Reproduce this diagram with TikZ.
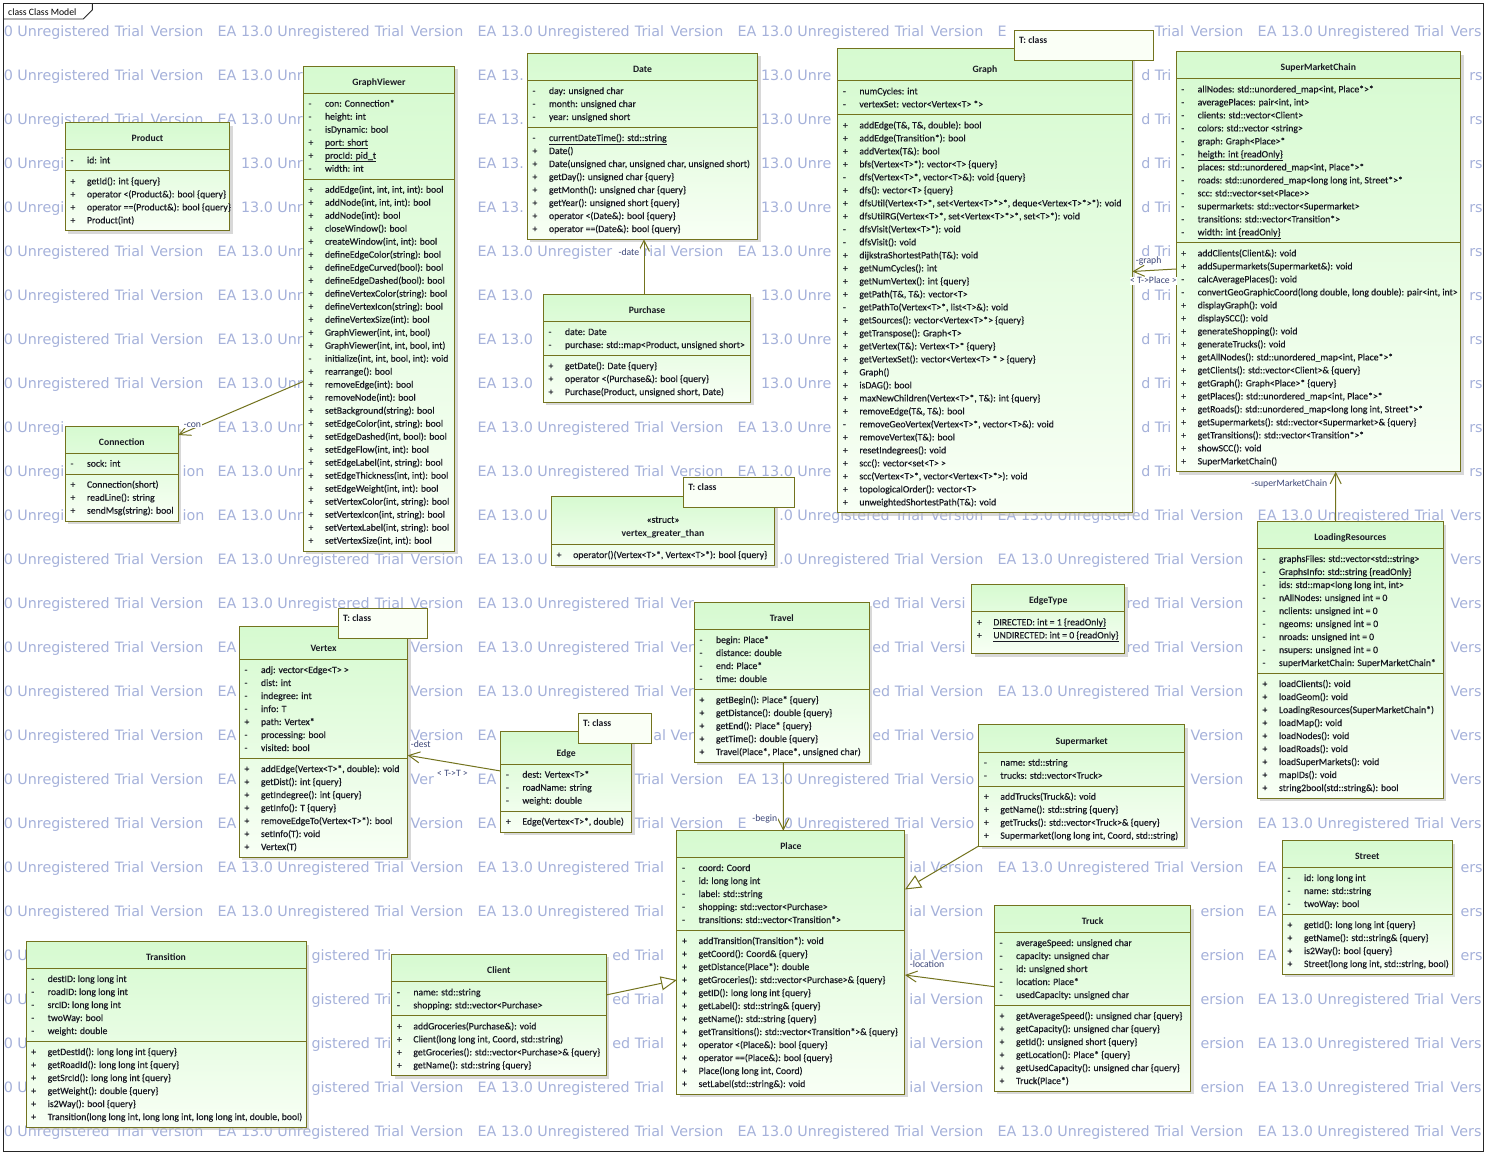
\documentclass[tikz,border=0pt]{standalone}
\usepackage{fontspec}
\setmainfont{Carlito}
\newfontfamily\memberfamily{Carlito}[FakeBold=0.45]
\newfontfamily\wmfont{DejaVu Sans}
\usetikzlibrary{arrows.meta,shadows}

\definecolor{umlborder}{RGB}{115,115,30}
\definecolor{umltop}{RGB}{214,250,208}
\definecolor{umlbot}{RGB}{248,255,245}
\definecolor{umltext}{RGB}{25,25,35}
\definecolor{linktext}{RGB}{60,70,120}
\definecolor{wmcolor}{RGB}{165,177,218}
\definecolor{tmplfill}{RGB}{250,255,246}

\newcommand\umlfont{\memberfamily\fontsize{9.7}{11}\selectfont}
\newcommand\umlboldfont{\fontsize{9.7}{11}\selectfont\bfseries}
\newcommand\wmfontsel{\wmfont\fontsize{14.3}{16}\selectfont}

\tikzset{
  classbox/.style={rectangle, draw=umlborder, line width=1pt, top color=umltop, bottom color=umlbot,
    inner sep=0pt, outer sep=0pt, anchor=north west,
    drop shadow={shadow xshift=3pt, shadow yshift=-3pt, fill=black!25, opacity=0.6}},
  tmplbox/.style={rectangle, draw=umlborder, line width=1pt, fill=tmplfill, inner sep=0pt, outer sep=0pt, anchor=north west},
  sepline/.style={draw=umlborder, line width=1pt},
  member/.style={anchor=base west, inner sep=0pt, font=\umlfont, text=umltext},
  ctitle/.style={anchor=base, inner sep=0pt, font=\umlboldfont, text=umltext},
  cstereo/.style={anchor=base, inner sep=0pt, font=\umlfont, text=umltext},
  tmpltext/.style={anchor=base west, inner sep=0pt, font=\umlboldfont, text=umltext},
  assoc/.style={draw=umlborder, line width=1pt, -{Straight Barb[length=11pt,width=11pt]}},
  generalization/.style={draw=umlborder, line width=1pt, -{Triangle[length=16pt,width=14pt,fill=white]}},
  linklabel/.style={font=\fontsize{9.7}{11}\selectfont, text=linktext, fill=white, inner sep=0.6pt},
  wm/.style={anchor=base west, inner sep=0pt, font=\wmfontsel, text=wmcolor},
}

\newcounter{rowno}
% class box: name, left, top, width, header height, attribute rows (-1 none), operation rows (-1 none)
\newcommand\umlclass[7]{%
  \def\clsId{#1}\def\clsL{#2}\def\clsT{#3}\def\clsW{#4}%
  \pgfmathsetmacro\clsA{#3+#5}%
  \ifnum#6<0 \let\clsB\clsA\else\pgfmathsetmacro\clsB{\clsA+13*#6+8}\fi
  \ifnum#7<0 \let\clsC\clsB\else\pgfmathsetmacro\clsC{\clsB+13*#7+8}\fi
  \pgfmathsetmacro\clsH{\clsC-#3}%
  \node[classbox, minimum width=#4*1pt, minimum height=\clsH*1pt] (#1) at (#2,#3) {};
  \draw[sepline] (#2,\clsA) -- ++(#4,0);
  \ifnum#6<0 \else\ifnum#7>0 \draw[sepline] (#2,\clsB) -- ++(#4,0);\fi\fi
}
\newcommand\umltitle[1]{\node[ctitle] (\clsId-name) at ({\clsL+\clsW/2},{\clsA-8}) {#1};}
\newcommand\umlstereo[1]{\node[cstereo] (\clsId-stereo) at ({\clsL+\clsW/2},{\clsA-21.5}) {#1};}
\newcommand\umlattrs{\def\rowY{\clsA}\def\rowPre{a}\setcounter{rowno}{0}}
\newcommand\umlops{\def\rowY{\clsB}\def\rowPre{o}\setcounter{rowno}{0}}
\newcommand\umlrow[2]{%
  \pgfmathsetmacro\rowBase{\rowY+13.7+13*\arabic{rowno}}%
  \node[member] (\clsId-\rowPre\arabic{rowno}v) at ({\clsL+5},\rowBase) {#1};
  \node[member] (\clsId-\rowPre\arabic{rowno}) at ({\clsL+21.5},\rowBase) {#2};
  \stepcounter{rowno}}
% template parameter box: name, left, top, right, bottom
\newcommand\umltmpl[5]{%
  \node[tmplbox, minimum width={(#4-#2)*1pt}, minimum height={(#5-#3)*1pt}] (#1) at (#2,#3) {};
  \node[tmpltext] (#1-text) at ({#2+4.5},{#3+12.8}) {T: class};}

% ---- background watermark: only the letters left uncovered by boxes and labels are set
\newdimen\wmx \newdimen\wmxe \newdimen\wmrunx \newdimen\wmbandtop \newdimen\wmbandbot \newdimen\wmspacewd
\newtoks\wmtoks
\newif\ifwmhidden \newif\ifwmrunopen
\newcount\wmruncount
\newbox\wmbox
\def\wmstring{EA|13.0|Unregistered|Trial|Version}
% covered areas: left, top, right, bottom
\def\wmboxlist{%
 \wmcollect{65.3}{122.7}{229.7}{230.7}\wmcollect{303.3}{66}{454.7}{551}%
 \wmcollect{527.3}{53.3}{757.7}{239.3}\wmcollect{543.3}{294.3}{750.7}{402.3}%
 \wmcollect{837.7}{48.7}{1132.3}{512.7}\wmcollect{1176}{51.7}{1460.7}{471.7}%
 \wmcollect{65.3}{426}{178.3}{521}\wmcollect{551.5}{496}{774.5}{565.3}%
 \wmcollect{239.3}{626.7}{407.7}{857.3}\wmcollect{500.7}{731.7}{631.7}{832}%
 \wmcollect{694.3}{602.7}{869.3}{762.3}\wmcollect{971.7}{584.3}{1124.7}{653.7}%
 \wmcollect{978.7}{724.7}{1184.7}{846}\wmcollect{1257.3}{521.7}{1443.3}{798.3}%
 \wmcollect{1282.3}{840.7}{1452.3}{974.3}\wmcollect{26}{941.7}{306}{1127.3}%
 \wmcollect{391.7}{954.3}{606}{1075.7}\wmcollect{676.9}{830.7}{904.9}{1094.3}%
 \wmcollect{994.4}{905.7}{1190.8}{1091.3}%
 \wmcollect{1014.3}{30.7}{1153.3}{60.3}\wmcollect{683.6}{477.7}{794.4}{507.3}%
 \wmcollect{338.3}{608.3}{427.7}{638.3}\wmcollect{578.3}{713.3}{651.7}{743.3}%
 \wmcollect{614}{246}{642}{257}\wmcollect{181}{420}{203}{431}%
 \wmcollect{1133}{255}{1165}{266}\wmcollect{1127}{275}{1180}{286}%
 \wmcollect{1245}{478}{1330}{489}\wmcollect{408}{739}{433}{750}%
 \wmcollect{434}{768}{471}{779}\wmcollect{752}{813}{780}{824}%
 \wmcollect{907}{959}{946}{970}}
% keep the areas that cover the body of a row's letters
\def\wmcollect#1#2#3#4{%
  \ifdim#2pt<\wmbandbot
    \ifdim#4pt>\wmbandtop
      \expandafter\def\expandafter\wmrowlist\expandafter{\wmrowlist\wmtest{#1}{#3}}%
    \fi
  \fi}
% a letter is dropped when it reaches more than 2pt into a covered area
\def\wmtest#1#2{%
  \ifdim\wmxe>\dimexpr#1pt+2pt\relax
    \ifdim\wmx<\dimexpr#2pt+1pt\relax
      \wmhiddentrue
    \fi
  \fi}
\def\wmflush{%
  \ifwmrunopen
    \pgfmathsetmacro\wmrunxn{\wmrunx}%
    \global\advance\wmruncount by 1
    \node[wm] (wm-\the\wmruncount) at (\wmrunxn,\wmy) {\the\wmtoks};
    \wmrunopenfalse
  \fi}
\def\wmchar#1{%
  \ifx|#1%
    \wmflush
    \advance\wmx by \wmspacewd
  \else
    \wmxe=\wmx \advance\wmxe by \csname wmw#1\endcsname\relax
    \wmhiddenfalse
    \ifdim\wmx<2pt \wmhiddentrue\fi
    \ifdim\wmxe>1482.5pt \wmhiddentrue\fi
    \wmrowlist
    \ifwmhidden
      \wmflush
    \else
      \ifwmrunopen\else \wmrunx=\wmx \wmrunopentrue \wmtoks={}\fi
      \wmtoks=\expandafter{\the\wmtoks #1}%
    \fi
    \wmx=\wmxe
  \fi}
\def\wmloop#1{%
  \ifx\relax#1\else
    \wmchar#1%
    \expandafter\wmloop
  \fi}
% letter advance widths, measured once in the document font
\def\wmmeasure#1{%
  \ifx\relax#1\else
    \setbox\wmbox\hbox{\wmfontsel #1}%
    \expandafter\xdef\csname wmw#1\endcsname{\the\wd\wmbox}%
    \expandafter\wmmeasure
  \fi}

\begin{document}%
\expandafter\wmmeasure\wmstring\relax
{\wmfontsel\global\wmspacewd=\fontdimen2\font}%
\begin{tikzpicture}[x=1pt,y=-1pt]
\useasboundingbox (0,0) rectangle (1486,1154);
\fill[white] (0,0) rectangle (1486,1154);

% background watermark rows
\foreach \r in {0,...,25}{
  \pgfmathsetmacro\wmy{36.7+44*\r}
  \wmbandtop=\wmy pt \advance\wmbandtop by -6pt
  \wmbandbot=\wmy pt \advance\wmbandbot by -2pt
  \def\wmrowlist{}
  \wmboxlist
  \foreach \c in {0,...,5}{
    \pgfmathsetmacro\wmxs{-42.5+260*\c}
    \wmx=\wmxs pt
    \wmrunopenfalse
    \expandafter\wmloop\wmstring\relax
    \wmflush
  }
}

% diagram frame
\draw[black!85, line width=0.9pt] (3.3,3.3) rectangle (1483,1151);
\draw[black!85, line width=0.9pt] (3.3,19) -- (83.3,19) -- (92.3,10) -- (92.3,3.3);
\node[member, text=black, font=\fontsize{9.7}{11}\selectfont] (frame-title) at (8,15.6) {class Class Model};

% ---------------- Product
\umlclass{product}{65.3}{122.7}{164.4}{27}{1}{4}
\umltitle{Product}
\umlattrs
\umlrow{-}{id: int}
\umlops
\umlrow{+}{getId(): int \{query\}}
\umlrow{+}{operator <(Product\&): bool \{query\}}
\umlrow{+}{operator ==(Product\&): bool \{query\}}
\umlrow{+}{Product(int)}

% ---------------- GraphViewer
\umlclass{graphviewer}{303.3}{66}{151.4}{27}{6}{28}
\umltitle{GraphViewer}
\umlattrs
\umlrow{-}{con: Connection*}
\umlrow{-}{height: int}
\umlrow{-}{isDynamic: bool}
\umlrow{+}{\underline{port: short}}
\umlrow{+}{\underline{procId: pid\_t}}
\umlrow{-}{width: int}
\umlops
\umlrow{+}{addEdge(int, int, int, int): bool}
\umlrow{+}{addNode(int, int, int): bool}
\umlrow{+}{addNode(int): bool}
\umlrow{+}{closeWindow(): bool}
\umlrow{+}{createWindow(int, int): bool}
\umlrow{+}{defineEdgeColor(string): bool}
\umlrow{+}{defineEdgeCurved(bool): bool}
\umlrow{+}{defineEdgeDashed(bool): bool}
\umlrow{+}{defineVertexColor(string): bool}
\umlrow{+}{defineVertexIcon(string): bool}
\umlrow{+}{defineVertexSize(int): bool}
\umlrow{+}{GraphViewer(int, int, bool)}
\umlrow{+}{GraphViewer(int, int, bool, int)}
\umlrow{-}{initialize(int, int, bool, int): void}
\umlrow{+}{rearrange(): bool}
\umlrow{+}{removeEdge(int): bool}
\umlrow{+}{removeNode(int): bool}
\umlrow{+}{setBackground(string): bool}
\umlrow{+}{setEdgeColor(int, string): bool}
\umlrow{+}{setEdgeDashed(int, bool): bool}
\umlrow{+}{setEdgeFlow(int, int): bool}
\umlrow{+}{setEdgeLabel(int, string): bool}
\umlrow{+}{setEdgeThickness(int, int): bool}
\umlrow{+}{setEdgeWeight(int, int): bool}
\umlrow{+}{setVertexColor(int, string): bool}
\umlrow{+}{setVertexIcon(int, string): bool}
\umlrow{+}{setVertexLabel(int, string): bool}
\umlrow{+}{setVertexSize(int, int): bool}

% ---------------- Date
\umlclass{date}{527.3}{53.3}{230.4}{27}{3}{8}
\umltitle{Date}
\umlattrs
\umlrow{-}{day: unsigned char}
\umlrow{-}{month: unsigned char}
\umlrow{-}{year: unsigned short}
\umlops
\umlrow{-}{\underline{currentDateTime(): std::string}}
\umlrow{+}{Date()}
\umlrow{+}{Date(unsigned char, unsigned char, unsigned short)}
\umlrow{+}{getDay(): unsigned char \{query\}}
\umlrow{+}{getMonth(): unsigned char \{query\}}
\umlrow{+}{getYear(): unsigned short \{query\}}
\umlrow{+}{operator <(Date\&): bool \{query\}}
\umlrow{+}{operator ==(Date\&): bool \{query\}}

% ---------------- Purchase
\umlclass{purchase}{543.3}{294.3}{207.4}{27}{2}{3}
\umltitle{Purchase}
\umlattrs
\umlrow{-}{date: Date}
\umlrow{-}{purchase: std::map<Product, unsigned short>}
\umlops
\umlrow{+}{getDate(): Date \{query\}}
\umlrow{+}{operator <(Purchase\&): bool \{query\}}
\umlrow{+}{Purchase(Product, unsigned short, Date)}

% ---------------- Graph
\umlclass{graph}{837.7}{48.7}{294.6}{32}{2}{30}
\umltitle{Graph}
\umlattrs
\umlrow{-}{numCycles: int}
\umlrow{-}{vertexSet: vector<Vertex<T> *>}
\umlops
\umlrow{+}{addEdge(T\&, T\&, double): bool}
\umlrow{+}{addEdge(Transition*): bool}
\umlrow{+}{addVertex(T\&): bool}
\umlrow{+}{bfs(Vertex<T>*): vector<T> \{query\}}
\umlrow{-}{dfs(Vertex<T>*, vector<T>\&): void \{query\}}
\umlrow{+}{dfs(): vector<T> \{query\}}
\umlrow{+}{dfsUtil(Vertex<T>*, set<Vertex<T>*>*, deque<Vertex<T>*>*): void}
\umlrow{+}{dfsUtilRG(Vertex<T>*, set<Vertex<T>*>*, set<T>*): void}
\umlrow{-}{dfsVisit(Vertex<T>*): void}
\umlrow{-}{dfsVisit(): void}
\umlrow{+}{dijkstraShortestPath(T\&): void}
\umlrow{+}{getNumCycles(): int}
\umlrow{+}{getNumVertex(): int \{query\}}
\umlrow{+}{getPath(T\&, T\&): vector<T>}
\umlrow{-}{getPathTo(Vertex<T>*, list<T>\&): void}
\umlrow{+}{getSources(): vector<Vertex<T>*> \{query\}}
\umlrow{+}{getTranspose(): Graph<T>}
\umlrow{+}{getVertex(T\&): Vertex<T>* \{query\}}
\umlrow{+}{getVertexSet(): vector<Vertex<T> * > \{query\}}
\umlrow{+}{Graph()}
\umlrow{+}{isDAG(): bool}
\umlrow{+}{maxNewChildren(Vertex<T>*, T\&): int \{query\}}
\umlrow{+}{removeEdge(T\&, T\&): bool}
\umlrow{-}{removeGeoVertex(Vertex<T>*, vector<T>\&): void}
\umlrow{+}{removeVertex(T\&): bool}
\umlrow{+}{resetIndegrees(): void}
\umlrow{+}{scc(): vector<set<T> >}
\umlrow{+}{scc(Vertex<T>*, vector<Vertex<T>*>): void}
\umlrow{+}{topologicalOrder(): vector<T>}
\umlrow{+}{unweightedShortestPath(T\&): void}

% ---------------- SuperMarketChain
\umlclass{smc}{1176}{51.7}{284.7}{27}{12}{17}
\umltitle{SuperMarketChain}
\umlattrs
\umlrow{-}{allNodes: std::unordered\_map<int, Place*>*}
\umlrow{-}{averagePlaces: pair<int, int>}
\umlrow{-}{clients: std::vector<Client>}
\umlrow{-}{colors: std::vector <string>}
\umlrow{-}{graph: Graph<Place>*}
\umlrow{-}{\underline{heigth: int \{readOnly\}}}
\umlrow{-}{places: std::unordered\_map<int, Place*>*}
\umlrow{-}{roads: std::unordered\_map<long long int, Street*>*}
\umlrow{-}{scc: std::vector<set<Place>>}
\umlrow{-}{supermarkets: std::vector<Supermarket>}
\umlrow{-}{transitions: std::vector<Transition*>}
\umlrow{-}{\underline{width: int \{readOnly\}}}
\umlops
\umlrow{+}{addClients(Client\&): void}
\umlrow{+}{addSupermarkets(Supermarket\&): void}
\umlrow{-}{calcAveragePlaces(): void}
\umlrow{-}{convertGeoGraphicCoord(long double, long double): pair<int, int>}
\umlrow{+}{displayGraph(): void}
\umlrow{+}{displaySCC(): void}
\umlrow{+}{generateShopping(): void}
\umlrow{+}{generateTrucks(): void}
\umlrow{+}{getAllNodes(): std::unordered\_map<int, Place*>*}
\umlrow{+}{getClients(): std::vector<Client>\& \{query\}}
\umlrow{+}{getGraph(): Graph<Place>* \{query\}}
\umlrow{+}{getPlaces(): std::unordered\_map<int, Place*>*}
\umlrow{+}{getRoads(): std::unordered\_map<long long int, Street*>*}
\umlrow{+}{getSupermarkets(): std::vector<Supermarket>\& \{query\}}
\umlrow{+}{getTransitions(): std::vector<Transition*>*}
\umlrow{+}{showSCC(): void}
\umlrow{+}{SuperMarketChain()}

% ---------------- Connection
\umlclass{connection}{65.3}{426}{113}{27}{1}{3}
\umltitle{Connection}
\umlattrs
\umlrow{-}{sock: int}
\umlops
\umlrow{+}{Connection(short)}
\umlrow{+}{readLine(): string}
\umlrow{+}{sendMsg(string): bool}

% ---------------- vertex_greater_than
\umlclass{vgt}{551.5}{496}{223}{48.3}{-1}{1}
\umlstereo{«struct»}
\umltitle{vertex\_greater\_than}
\umlops
\umlrow{+}{operator()(Vertex<T>*, Vertex<T>*): bool \{query\}}

% ---------------- Vertex
\umlclass{vertex}{239.3}{626.7}{168.4}{32.6}{7}{7}
\umltitle{Vertex}
\umlattrs
\umlrow{-}{adj: vector<Edge<T> >}
\umlrow{-}{dist: int}
\umlrow{-}{indegree: int}
\umlrow{-}{info: T}
\umlrow{+}{path: Vertex*}
\umlrow{-}{processing: bool}
\umlrow{-}{visited: bool}
\umlops
\umlrow{+}{addEdge(Vertex<T>*, double): void}
\umlrow{+}{getDist(): int \{query\}}
\umlrow{+}{getIndegree(): int \{query\}}
\umlrow{+}{getInfo(): T \{query\}}
\umlrow{+}{removeEdgeTo(Vertex<T>*): bool}
\umlrow{+}{setInfo(T): void}
\umlrow{+}{Vertex(T)}

% ---------------- Edge
\umlclass{edge}{500.7}{731.7}{131}{32.3}{3}{1}
\umltitle{Edge}
\umlattrs
\umlrow{-}{dest: Vertex<T>*}
\umlrow{-}{roadName: string}
\umlrow{-}{weight: double}
\umlops
\umlrow{+}{Edge(Vertex<T>*, double)}

% ---------------- Travel
\umlclass{travel}{694.3}{602.7}{175}{26.6}{4}{5}
\umltitle{Travel}
\umlattrs
\umlrow{-}{begin: Place*}
\umlrow{-}{distance: double}
\umlrow{-}{end: Place*}
\umlrow{-}{time: double}
\umlops
\umlrow{+}{getBegin(): Place* \{query\}}
\umlrow{+}{getDistance(): double \{query\}}
\umlrow{+}{getEnd(): Place* \{query\}}
\umlrow{+}{getTime(): double \{query\}}
\umlrow{+}{Travel(Place*, Place*, unsigned char)}

% ---------------- EdgeType
\umlclass{edgetype}{971.7}{584.3}{153}{27.4}{2}{0}
\umltitle{EdgeType}
\umlattrs
\umlrow{+}{\underline{DIRECTED: int = 1 \{readOnly\}}}
\umlrow{+}{\underline{UNDIRECTED: int = 0 \{readOnly\}}}

% ---------------- Supermarket
\umlclass{supermarket}{978.7}{724.7}{206}{27.3}{2}{4}
\umltitle{Supermarket}
\umlattrs
\umlrow{-}{name: std::string}
\umlrow{-}{trucks: std::vector<Truck>}
\umlops
\umlrow{+}{addTrucks(Truck\&): void}
\umlrow{+}{getName(): std::string \{query\}}
\umlrow{+}{getTrucks(): std::vector<Truck>\& \{query\}}
\umlrow{+}{Supermarket(long long int, Coord, std::string)}

% ---------------- LoadingResources
\umlclass{loading}{1257.3}{521.7}{186}{26.6}{9}{9}
\umltitle{LoadingResources}
\umlattrs
\umlrow{-}{graphsFiles: std::vector<std::string>}
\umlrow{-}{\underline{GraphsInfo: std::string \{readOnly\}}}
\umlrow{-}{ids: std::map<long long int, int>}
\umlrow{-}{nAllNodes: unsigned int = 0}
\umlrow{-}{nclients: unsigned int = 0}
\umlrow{-}{ngeoms: unsigned int = 0}
\umlrow{-}{nroads: unsigned int = 0}
\umlrow{-}{nsupers: unsigned int = 0}
\umlrow{-}{superMarketChain: SuperMarketChain*}
\umlops
\umlrow{+}{loadClients(): void}
\umlrow{+}{loadGeom(): void}
\umlrow{+}{LoadingResources(SuperMarketChain*)}
\umlrow{+}{loadMap(): void}
\umlrow{+}{loadNodes(): void}
\umlrow{+}{loadRoads(): void}
\umlrow{+}{loadSuperMarkets(): void}
\umlrow{+}{mapIDs(): void}
\umlrow{+}{string2bool(std::string\&): bool}

% ---------------- Street
\umlclass{street}{1282.3}{840.7}{170}{26.6}{3}{4}
\umltitle{Street}
\umlattrs
\umlrow{-}{id: long long int}
\umlrow{-}{name: std::string}
\umlrow{-}{twoWay: bool}
\umlops
\umlrow{+}{getId(): long long int \{query\}}
\umlrow{+}{getName(): std::string\& \{query\}}
\umlrow{+}{is2Way(): bool \{query\}}
\umlrow{+}{Street(long long int, std::string, bool)}

% ---------------- Transition
\umlclass{transition}{26}{941.7}{280}{26.6}{5}{6}
\umltitle{Transition}
\umlattrs
\umlrow{-}{destID: long long int}
\umlrow{-}{roadID: long long int}
\umlrow{-}{srcID: long long int}
\umlrow{-}{twoWay: bool}
\umlrow{-}{weight: double}
\umlops
\umlrow{+}{getDestId(): long long int \{query\}}
\umlrow{+}{getRoadId(): long long int \{query\}}
\umlrow{+}{getSrcId(): long long int \{query\}}
\umlrow{+}{getWeight(): double \{query\}}
\umlrow{+}{is2Way(): bool \{query\}}
\umlrow{+}{Transition(long long int, long long int, long long int, double, bool)}

% ---------------- Client
\umlclass{client}{391.7}{954.3}{214.3}{27.4}{2}{4}
\umltitle{Client}
\umlattrs
\umlrow{-}{name: std::string}
\umlrow{-}{shopping: std::vector<Purchase>}
\umlops
\umlrow{+}{addGroceries(Purchase\&): void}
\umlrow{+}{Client(long long int, Coord, std::string)}
\umlrow{+}{getGroceries(): std::vector<Purchase>\& \{query\}}
\umlrow{+}{getName(): std::string \{query\}}

% ---------------- Place
\umlclass{place}{676.9}{830.7}{228}{26.6}{5}{12}
\umltitle{Place}
\umlattrs
\umlrow{-}{coord: Coord}
\umlrow{-}{id: long long int}
\umlrow{-}{label: std::string}
\umlrow{-}{shopping: std::vector<Purchase>}
\umlrow{-}{transitions: std::vector<Transition*>}
\umlops
\umlrow{+}{addTransition(Transition*): void}
\umlrow{+}{getCoord(): Coord\& \{query\}}
\umlrow{+}{getDistance(Place*): double}
\umlrow{+}{getGroceries(): std::vector<Purchase>\& \{query\}}
\umlrow{+}{getID(): long long int \{query\}}
\umlrow{+}{getLabel(): std::string\& \{query\}}
\umlrow{+}{getName(): std::string \{query\}}
\umlrow{+}{getTransitions(): std::vector<Transition*>\& \{query\}}
\umlrow{+}{operator <(Place\&): bool \{query\}}
\umlrow{+}{operator ==(Place\&): bool \{query\}}
\umlrow{+}{Place(long long int, Coord)}
\umlrow{+}{setLabel(std::string\&): void}

% ---------------- Truck
\umlclass{truck}{994.4}{905.7}{196.4}{26.6}{5}{6}
\umltitle{Truck}
\umlattrs
\umlrow{-}{averageSpeed: unsigned char}
\umlrow{-}{capacity: unsigned char}
\umlrow{-}{id: unsigned short}
\umlrow{-}{location: Place*}
\umlrow{-}{usedCapacity: unsigned char}
\umlops
\umlrow{+}{getAverageSpeed(): unsigned char \{query\}}
\umlrow{+}{getCapacity(): unsigned char \{query\}}
\umlrow{+}{getId(): unsigned short \{query\}}
\umlrow{+}{getLocation(): Place* \{query\}}
\umlrow{+}{getUsedCapacity(): unsigned char \{query\}}
\umlrow{+}{Truck(Place*)}

% ---------------- template parameter boxes
\umltmpl{graphT}{1014.3}{30.7}{1153.3}{60.3}
\umltmpl{vgtT}{683.6}{477.7}{794.4}{507.3}
\umltmpl{vertexT}{338.3}{608.3}{427.7}{638.3}
\umltmpl{edgeT}{578.3}{713.3}{651.7}{743.3}

% ---------------- relationships
\draw[assoc] ([xshift=-3pt]purchase.north) -- ([xshift=1.5pt]date.south);
\node[linklabel, anchor=east] (lbl-date) at (640,252.3) {-date};

\draw[assoc] ([yshift=-73pt]graphviewer.west) -- ([yshift=-9pt]connection.north east);
\node[linklabel, anchor=west] (lbl-con) at (183,425.5) {-con};

\draw[assoc] ([yshift=-7.3pt]smc.west) -- ([yshift=9.2pt]graph.east);
\node[linklabel, anchor=west] (lbl-graph) at (1135,260.5) {-graph};
\node[linklabel] (lbl-tplace) at (1153.5,280.5) {< T->Place >};

\draw[assoc] ([xshift=-14.6pt]loading.north) -- ([xshift=17.3pt]smc.south);
\node[linklabel, anchor=east] (lbl-smc) at (1328,483.5) {-superMarketChain};

\draw[assoc] ([yshift=10.85pt]edge.west) -- ([yshift=-13.3pt]vertex.east);
\node[linklabel, anchor=west] (lbl-dest) at (410,744.5) {-dest};
\node[linklabel] (lbl-tt) at (452.5,773.5) {< T->T >};

\draw[assoc] ([xshift=1.5pt]travel.south) -- ([xshift=-7.6pt]place.north);
\node[linklabel, anchor=east] (lbl-begin) at (778,818.5) {-begin};

\draw[assoc] ([yshift=11.8pt]truck.west) -- ([yshift=-12.5pt]place.east);
\node[linklabel, anchor=west] (lbl-location) at (909,964.5) {-location};

\draw[generalization] (supermarket.south west) -- ([yshift=73pt]place.east);
\draw[generalization] ([yshift=20pt]client.east) -- ([yshift=-17.5pt]place.west);
\end{tikzpicture}
\end{document}
